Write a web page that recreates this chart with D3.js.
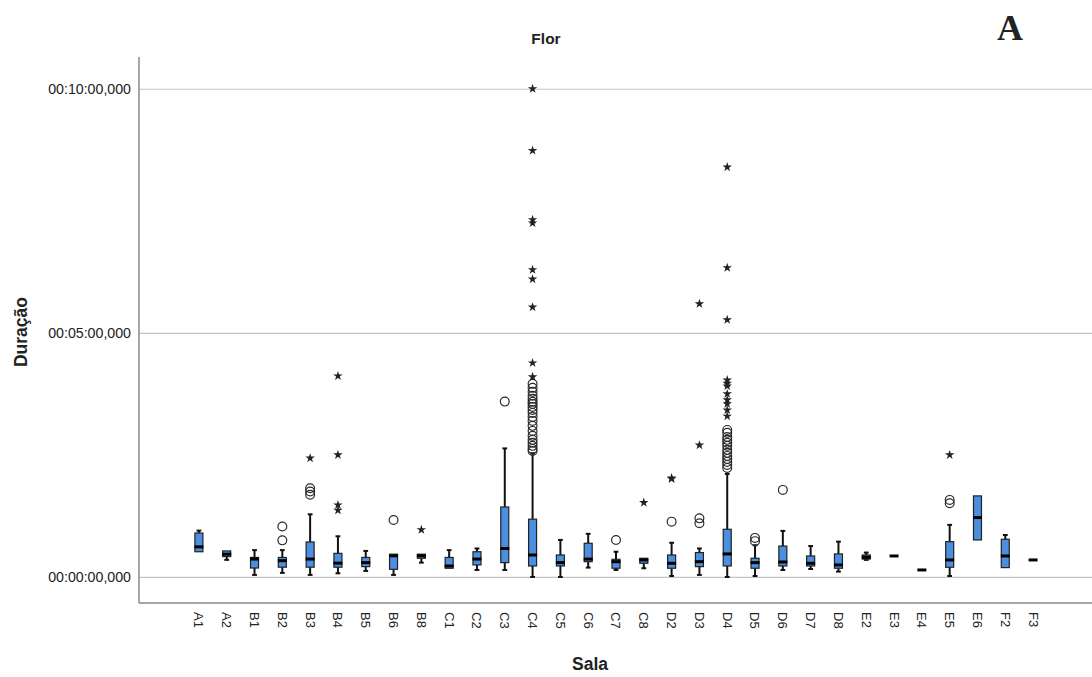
<!DOCTYPE html>
<html>
<head>
<meta charset="utf-8">
<script src="https://cdn.jsdelivr.net/npm/d3@7"></script>
<style>
  body { margin: 0; background: #fff; }
  svg text { font-family: Arial, "Liberation Sans", sans-serif; fill: #222; }
</style>
</head>
<body>
<svg id="chart" width="1092" height="677"></svg>
<script>
// valores em segundos
const salas = ["A1","A2","B1","B2","B3","B4","B5","B6","B8","C1","C2","C3","C4","C5","C6","C7","C8",
               "D2","D3","D4","D5","D6","D7","D8","E2","E3","E4","E5","E6","F2","F3"]
const whiskerLo = [31, 21, 2.5, 5, 2.5, 4.5, 7.4, 2.5, 17.6, 10.7, 8.6, 8.6, 0, 0, 11.5, 8.6, 10.7,
                   1.2, 2.5, 0, 1.2, 8.6, 9.8, 6.6, 21, 25.8, 8.6, 1.2, 45.5, 11.5, 20.9]
const q1 = [31, 25, 11, 12, 12, 12, 12.7, 9.4, 23, 10.7, 14.8, 17.6, 13.5, 13.5, 18.8, 10.7, 16.8,
            10.7, 12.7, 13.5, 10.7, 13.5, 13.5, 10.7, 22, 25.8, 8.6, 11.9, 45.5, 11.5, 20.9]
const median = [37, 28, 22, 20, 22, 17, 17.6, 26, 26, 13.5, 22, 35, 27, 17.6, 22, 18.8, 20.9,
                16.8, 18.8, 28.3, 17.6, 18.4, 16.8, 14.8, 24.2, 25.8, 8.6, 20.9, 73, 25.8, 20.9]
const q3 = [54, 32, 24, 24, 43, 29, 24, 28, 28, 24, 31, 86, 71, 27, 41.4, 21.7, 23,
            27, 30, 58.6, 23, 38, 25.8, 28.3, 27, 25.8, 8.6, 43.4, 99.6, 46.3, 20.9]
const whiskerHi = [57, 32, 33, 33, 77, 50, 32, 28, 28, 33, 35, 158, 152, 45.5, 53, 31, 23,
                   42, 35, 126.6, 39, 56.6, 38, 43.4, 30, 25.8, 8.6, 64, 99.6, 51.6, 20.9]

// valores atípicos (círculos) e extremos (estrelas): [sala, segundos]
const outlierCircles = [
  ["B2", 62], ["B2", 45], ["B3", 109], ["B3", 105], ["B3", 101], ["B6", 70], ["C3", 215.5],
  ["C4", 237.3], ["C4", 232.4], ["C4", 227.5], ["C4", 222.6], ["C4", 218.9], ["C4", 215.2],
  ["C4", 212.7], ["C4", 209], ["C4", 205.3], ["C4", 201.6], ["C4", 196.7], ["C4", 191.8],
  ["C4", 185.7], ["C4", 179.5], ["C4", 173.4], ["C4", 168.5], ["C4", 164.8], ["C4", 161.1],
  ["C4", 157.4], ["C4", 154.9], ["C7", 45.5], ["D2", 68], ["D3", 72], ["D3", 66],
  ["D4", 180.7], ["D4", 177.1], ["D4", 172.1], ["D4", 168.5], ["D4", 164.8], ["D4", 161.1],
  ["D4", 156.2], ["D4", 152.5], ["D4", 148.8], ["D4", 145.1], ["D4", 141.4], ["D4", 137.7],
  ["D4", 134], ["D5", 48], ["D5", 44], ["D6", 107], ["E5", 94.7], ["E5", 90.6]
]
const outlierStars = [
  ["B3", 146], ["B4", 247], ["B4", 150], ["B4", 88.5], ["B4", 82], ["B8", 58],
  ["C4", 600], ["C4", 524], ["C4", 439], ["C4", 435], ["C4", 377.5], ["C4", 366], ["C4", 331.6],
  ["C4", 263], ["C4", 246], ["C8", 91.4], ["D2", 121.7], ["D2", 120.5], ["D3", 335.7], ["D3", 162],
  ["D4", 503.7], ["D4", 380], ["D4", 316], ["D4", 242], ["D4", 238], ["D4", 234.6], ["D4", 225],
  ["D4", 217.6], ["D4", 212.7], ["D4", 205], ["D4", 197.6], ["E5", 150]
]

const yTicks = [0, 300, 600]
const yTickLabels = ["00:00:00,000", "00:05:00,000", "00:10:00,000"]

const svg = d3.select("#chart")
const plotLeft = 139, plotRight = 1092, plotTop = 57, plotBottom = 603

const x = d3.scaleBand().domain(salas).range([185, 1047])
const y = d3.scaleLinear().domain([-32, 639]).range([plotBottom, plotTop])

// grade + rótulos do eixo y
const yAxis = svg.append("g")
  .attr("transform", `translate(${plotLeft},0)`)
  .call(d3.axisLeft(y).tickValues(yTicks)
    .tickFormat((d, i) => yTickLabels[i])
    .tickSize(-(plotRight - plotLeft)).tickPadding(8))
yAxis.select(".domain").remove()
yAxis.selectAll("line").attr("stroke", "#c4c4c4").attr("stroke-width", 1.2)
yAxis.selectAll("text").style("font-size", "14.2px").attr("fill", "#222")

// eixos
svg.append("line").attr("x1", plotLeft).attr("x2", plotLeft).attr("y1", plotTop).attr("y2", plotBottom)
  .attr("stroke", "#8a8a8a").attr("stroke-width", 1.5)
svg.append("line").attr("x1", plotLeft).attr("x2", plotRight).attr("y1", plotBottom).attr("y2", plotBottom)
  .attr("stroke", "#8a8a8a").attr("stroke-width", 1.5)

const xAxis = svg.append("g")
  .attr("transform", `translate(0,${plotBottom})`)
  .call(d3.axisBottom(x).tickSize(0))
xAxis.select(".domain").remove()
xAxis.selectAll("text")
  .attr("transform", "rotate(90)")
  .attr("x", 9).attr("y", 0).attr("dy", "0.35em")
  .attr("text-anchor", "start")
  .style("font-size", "13px").attr("fill", "#222")

// caixas
const rows = salas.map((s, i) => ({ sala: s, lo: whiskerLo[i], q1: q1[i], med: median[i], q3: q3[i], hi: whiskerHi[i] }))
const bw = 8, cap = 2.4

const boxes = svg.append("g").selectAll("g").data(rows).join("g")
  .attr("transform", d => `translate(${x(d.sala) + x.bandwidth() / 2},0)`)

boxes.filter(d => d.hi > d.q3).append("line")
  .attr("y1", d => y(d.hi)).attr("y2", d => y(d.q3))
  .attr("stroke", "#111").attr("stroke-width", 2)
boxes.filter(d => d.hi > d.q3).append("line")
  .attr("x1", -cap).attr("x2", cap).attr("y1", d => y(d.hi)).attr("y2", d => y(d.hi))
  .attr("stroke", "#111").attr("stroke-width", 2)
boxes.filter(d => d.lo < d.q1).append("line")
  .attr("y1", d => y(d.q1)).attr("y2", d => y(d.lo))
  .attr("stroke", "#111").attr("stroke-width", 2)
boxes.filter(d => d.lo < d.q1).append("line")
  .attr("x1", -cap).attr("x2", cap).attr("y1", d => y(d.lo)).attr("y2", d => y(d.lo))
  .attr("stroke", "#111").attr("stroke-width", 2)

boxes.append("rect")
  .attr("x", -bw / 2).attr("width", bw)
  .attr("y", d => y(d.q3)).attr("height", d => y(d.q1) - y(d.q3))
  .attr("fill", "#4a8fe0").attr("stroke", "#222").attr("stroke-width", 1.2)

boxes.append("line")
  .attr("x1", -bw / 2 - 0.5).attr("x2", bw / 2 + 0.5)
  .attr("y1", d => y(d.med)).attr("y2", d => y(d.med))
  .attr("stroke", "#000").attr("stroke-width", 3)

// atípicos
const cx = s => x(s) + x.bandwidth() / 2
svg.append("g").selectAll("circle").data(outlierCircles).join("circle")
  .attr("cx", d => cx(d[0])).attr("cy", d => y(d[1])).attr("r", 4.4)
  .attr("fill", "none").attr("stroke", "#2a2a2a").attr("stroke-width", 1.2)

const star = d3.symbol().type(d3.symbolStar).size(28)
svg.append("g").selectAll("path").data(outlierStars).join("path")
  .attr("d", star)
  .attr("transform", d => `translate(${cx(d[0])},${y(d[1])})`)
  .attr("fill", "#222")

// títulos
svg.append("text").attr("x", 546).attr("y", 44).attr("text-anchor", "middle")
  .style("font-size", "15.5px").style("font-weight", "bold").text("Flor")
svg.append("text").attr("x", 1010).attr("y", 40).attr("text-anchor", "middle")
  .style("font-family", "'Liberation Serif', 'Times New Roman', serif")
  .style("font-size", "36px").style("font-weight", "bold").attr("fill", "#000").text("A")
svg.append("text").attr("transform", "translate(27,332) rotate(-90)").attr("text-anchor", "middle")
  .style("font-size", "17.5px").style("font-weight", "bold").text("Duração")
svg.append("text").attr("x", 590).attr("y", 670).attr("text-anchor", "middle")
  .style("font-size", "17.5px").style("font-weight", "bold").text("Sala")
</script>
</body>
</html>
